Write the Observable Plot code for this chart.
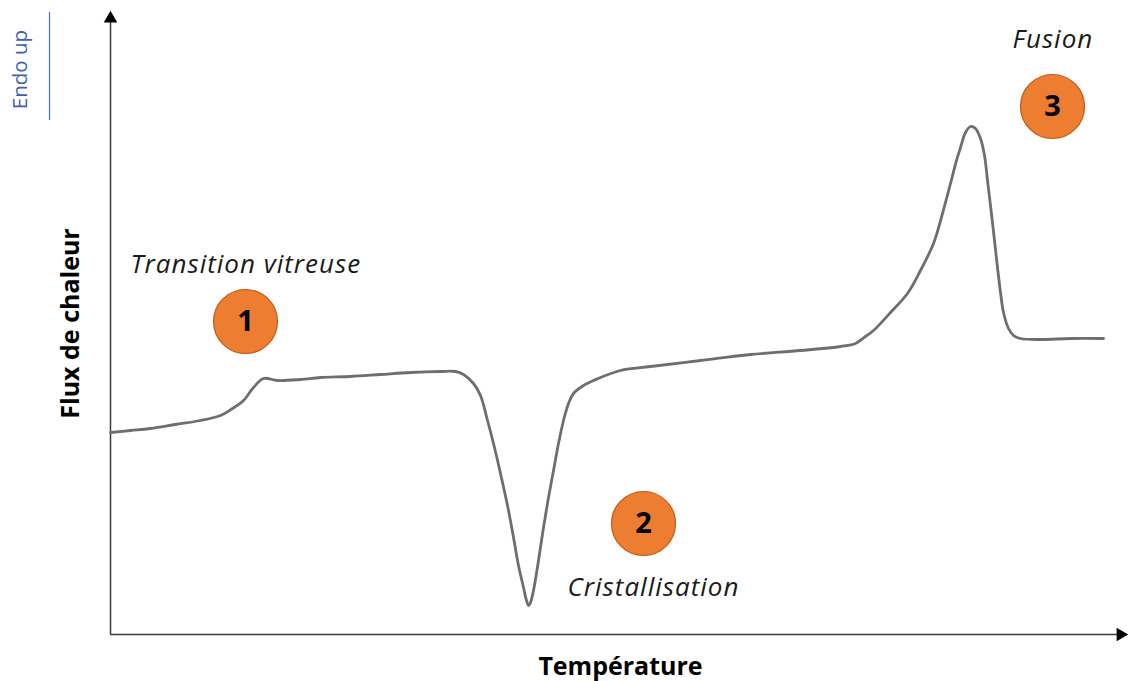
<!DOCTYPE html>
<html>
<head>
<meta charset="utf-8">
<script src="https://cdn.jsdelivr.net/npm/d3@7"></script>
<script src="https://cdn.jsdelivr.net/npm/@observablehq/plot@0.6"></script>
<style>
  html, body { margin: 0; padding: 0; background: #fff; }
</style>
</head>
<body>
<div id="chart"></div>
<script>
// DSC thermogram (arbitrary units): temperature vs heat flux
const temperature = [0,20,40,65,90,110,122,133,143,153,167,190,210,240,270,300,330,345,353,363,370,377,384,390,397,403,408,413,416,418,420,423,428,433,438,443,448,453,458,463,473,483,510,540,590,640,690,730,745,755,763,780,797,810,823,832,840,846,850,855,860,865,870,874,877,880,884,887,890,893,898,903,910,930,960,993];
const heatFlux = [202,204,206,210,214,219,226,234,247,256,254,255,257,258,260,262,263,263,260,251,239,214,187,161,129,97,69,47,34,29,32,44,74,107,137,164,191,214,231,241,249,254,264,268,274,280,284,288,291,298,304,322,341,364,391,421,451,474,487,502,508,506,496,479,454,429,394,367,342,322,306,299,296,295,296,296];

const eventNumbers = ["1", "2", "3"];
const eventNames = ["Transition vitreuse", "Cristallisation", "Fusion"];
const eventBadgeT = [135, 533, 942];
const eventBadgeF = [313, 111, 528];
const eventLabelT = [20, 457, 902];
const eventLabelF = [370, 47, 595];

const curve = temperature.map((t, i) => ({t, f: heatFlux[i]}));
const badges = eventNumbers.map((n, i) => ({n, t: eventBadgeT[i], f: eventBadgeF[i]}));
const labels = eventNames.map((n, i) => ({n, t: eventLabelT[i], f: eventLabelF[i]}));

const chart = Plot.plot({
  width: 1129,
  height: 681,
  marginLeft: 110,
  marginRight: 1,
  marginTop: 10,
  marginBottom: 47,
  x: {domain: [0, 1018], axis: null},
  y: {domain: [0, 624], axis: null},
  style: {fontFamily: "'Open Sans', sans-serif", background: "#fff", overflow: "visible"},
  marks: [
    // axes
    Plot.ruleX([0], {y1: 0, y2: 612, stroke: "#3a3a3a", strokeWidth: 1.5}),
    Plot.ruleY([0], {x1: 0, x2: 1012, stroke: "#3a3a3a", strokeWidth: 1.5}),
    Plot.dot([{t: 0, f: 616}], {x: "t", y: "f", symbol: "triangle", r: 5, fill: "#000", stroke: "none"}),
    Plot.dot([{t: 1010, f: 0}], {x: "t", y: "f", symbol: "triangle", r: 5, rotate: 90, fill: "#000", stroke: "none"}),
    // curve
    Plot.line(curve, {x: "t", y: "f", stroke: "#6e6e6e", strokeWidth: 2.8, curve: "catmull-rom"}),
    // badges
    Plot.dot(badges, {x: "t", y: "f", r: 32, fill: "#ED7D31", stroke: "#C55A11", strokeWidth: 1.2}),
    Plot.text(badges, {x: "t", y: "f", text: "n", fontSize: 29, fontWeight: "bold", fill: "#000"}),
    // event labels
    Plot.text(labels, {x: "t", y: "f", text: "n", textAnchor: "start", fontSize: 26, fontStyle: "italic", fill: "#1a1a1a"}),
    // axis titles
    Plot.text(["Flux de chaleur"], {x: -40, y: 311, text: d => d, rotate: -90, fontSize: 25, fontWeight: "bold", fill: "#000"}),
    Plot.text(["Température"], {x: 510, y: -32, text: d => d, fontSize: 25, fontWeight: "bold", fill: "#000"}),
    // endo up
    Plot.text(["Endo up"], {x: -90, y: 565, text: d => d, rotate: -90, fontSize: 20.5, fill: "#3D63AE"}),
    Plot.ruleX([-61], {y1: 514, y2: 622, stroke: "#4472C4", strokeWidth: 1.2})
  ]
});
d3.select(chart).selectAll("text")
  .filter(function() { return eventNames.includes(this.textContent); })
  .style("letter-spacing", "1px");
document.getElementById("chart").appendChild(chart);
</script>
</body>
</html>
